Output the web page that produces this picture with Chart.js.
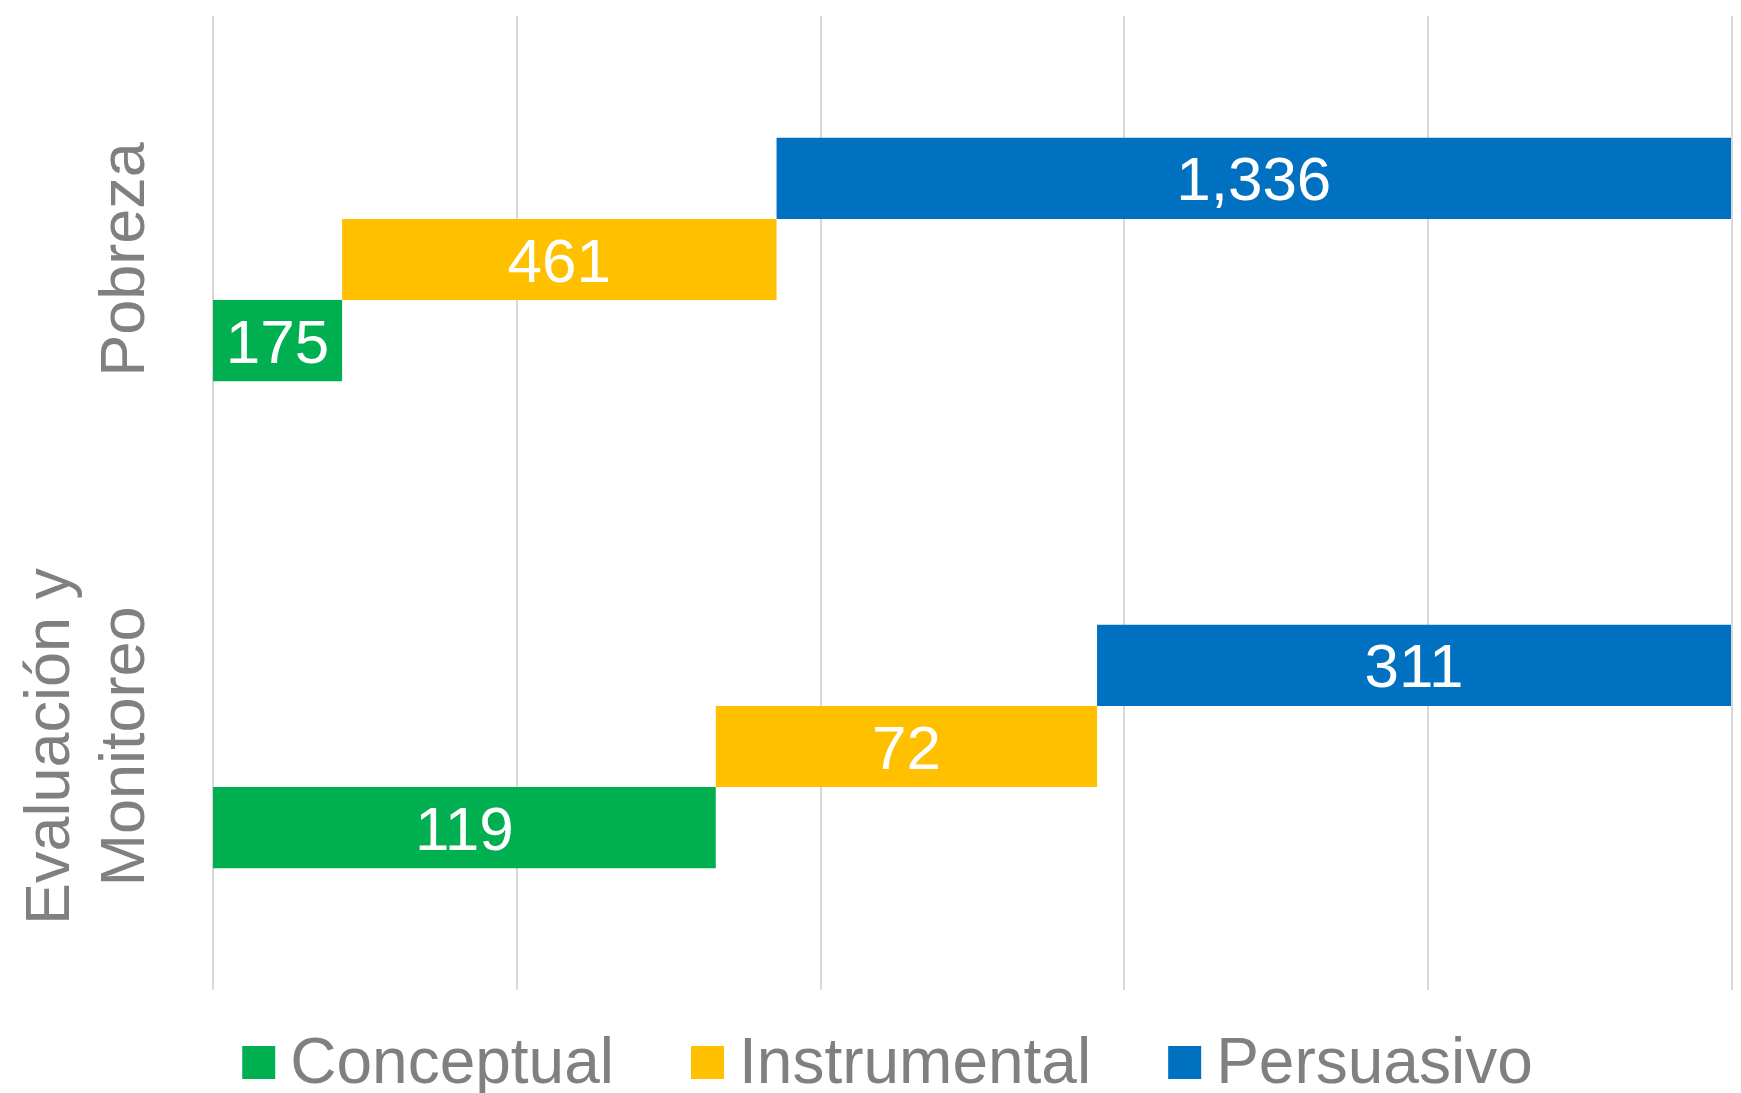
<!DOCTYPE html>
<html>
<head>
<meta charset="utf-8">
<script src="https://cdn.jsdelivr.net/npm/chart.js@4.4.1/dist/chart.umd.min.js"></script>
<style>
  html, body { margin: 0; padding: 0; background: #ffffff; }
  #wrap { width: 1741px; height: 1093px; position: relative; }
</style>
</head>
<body>
<div id="wrap"><canvas id="graficoUso"></canvas></div>
<script>
// categorias (eje vertical)
const categorias = ['Pobreza', ['Evaluación y', 'Monitoreo']];

// largo de cada tramo, en % del eje
const conceptual = [8.5, 33.1];
const instrumental = [28.6, 25.1];
const persuasivo = [62.9, 41.8];

// numeros que se muestran dentro de cada tramo
const conceptualN = [175, 119];
const instrumentalN = [461, 72];
const persuasivoN = [1336, 311];

const gris = '#808080';
const fuente = '"Liberation Sans", Arial, sans-serif';

function texto(ctx, str, x, y, size, align) {
    ctx.font = size + 'px ' + fuente;
    ctx.textAlign = align || 'left';
    ctx.textBaseline = 'alphabetic';
    ctx.fillText(str, x, y);
}

const etiquetas = {
    id: 'etiquetas',
    afterDatasetsDraw(chart) {
        const ctx = chart.ctx;
        ctx.fillStyle = '#ffffff';
        chart.data.datasets.forEach((ds, i) => {
            const meta = chart.getDatasetMeta(i);
            meta.data.forEach((bar, j) => {
                const cx = (bar.x + bar.base) / 2;
                const txt = ds.numeros[j].toLocaleString('en-US');
                texto(ctx, txt, cx, bar.y + 22, 62, 'center');
            });
        });
    },
    afterDraw(chart) {
        const ctx = chart.ctx;
        const y = chart.scales.y;

        // nombres de categoria, girados
        ctx.fillStyle = gris;
        categorias.forEach((cat, i) => {
            const lineas = Array.isArray(cat) ? cat : [cat];
            const py = y.getPixelForTick(i);
            lineas.forEach((linea, k) => {
                const bx = 144 - (lineas.length - 1 - k) * 75;
                ctx.save();
                ctx.translate(bx, py);
                ctx.rotate(-Math.PI / 2);
                texto(ctx, linea, 0, 0, 63, 'center');
                ctx.restore();
            });
        });

        // leyenda (orden: Conceptual, Instrumental, Persuasivo)
        const items = chart.data.datasets.slice().reverse();
        const caja = 33, sep = 15, entre = 77, size = 64;
        ctx.font = size + 'px ' + fuente;
        const anchos = items.map(ds => ctx.measureText(ds.label).width);
        let total = 0;
        anchos.forEach((w, i) => { total += caja + sep + w + (i ? entre : 0); });
        let x = chart.width / 2 + 17 - total / 2;
        items.forEach((ds, i) => {
            ctx.fillStyle = ds.backgroundColor;
            ctx.fillRect(x, 1046, caja, caja);
            ctx.fillStyle = gris;
            texto(ctx, ds.label, x + caja + sep, 1083, size, 'left');
            x += caja + sep + anchos[i] + entre;
        });
    }
};

const ctx = document.getElementById('graficoUso').getContext('2d');

new Chart(ctx, {
    type: 'bar',
    data: {
        labels: categorias,
        datasets: [
            { label: 'Persuasivo', data: persuasivo, numeros: persuasivoN, backgroundColor: '#0070C0' },
            { label: 'Instrumental', data: instrumental, numeros: instrumentalN, backgroundColor: '#FFC000' },
            { label: 'Conceptual', data: conceptual, numeros: conceptualN, backgroundColor: '#00B050' },
        ],
    },
    options: {
        indexAxis: 'y',
        responsive: true,
        maintainAspectRatio: false,
        animation: false,
        categoryPercentage: 0.5,
        barPercentage: 1,
        layout: {
            padding: { left: 213, right: 9, top: 16, bottom: 103 },
        },
        plugins: {
            legend: { display: false },
            tooltip: { enabled: false },
            title: { display: false },
        },
        scales: {
            x: {
                stacked: true,
                reverse: true,
                min: 0,
                max: 100,
                ticks: { display: false, stepSize: 20 },
                grid: { color: '#d9d9d9', lineWidth: 2, drawTicks: false },
                border: { display: false },
            },
            y: {
                display: false,
            },
        },
    },
    plugins: [etiquetas],
});
</script>
</body>
</html>
